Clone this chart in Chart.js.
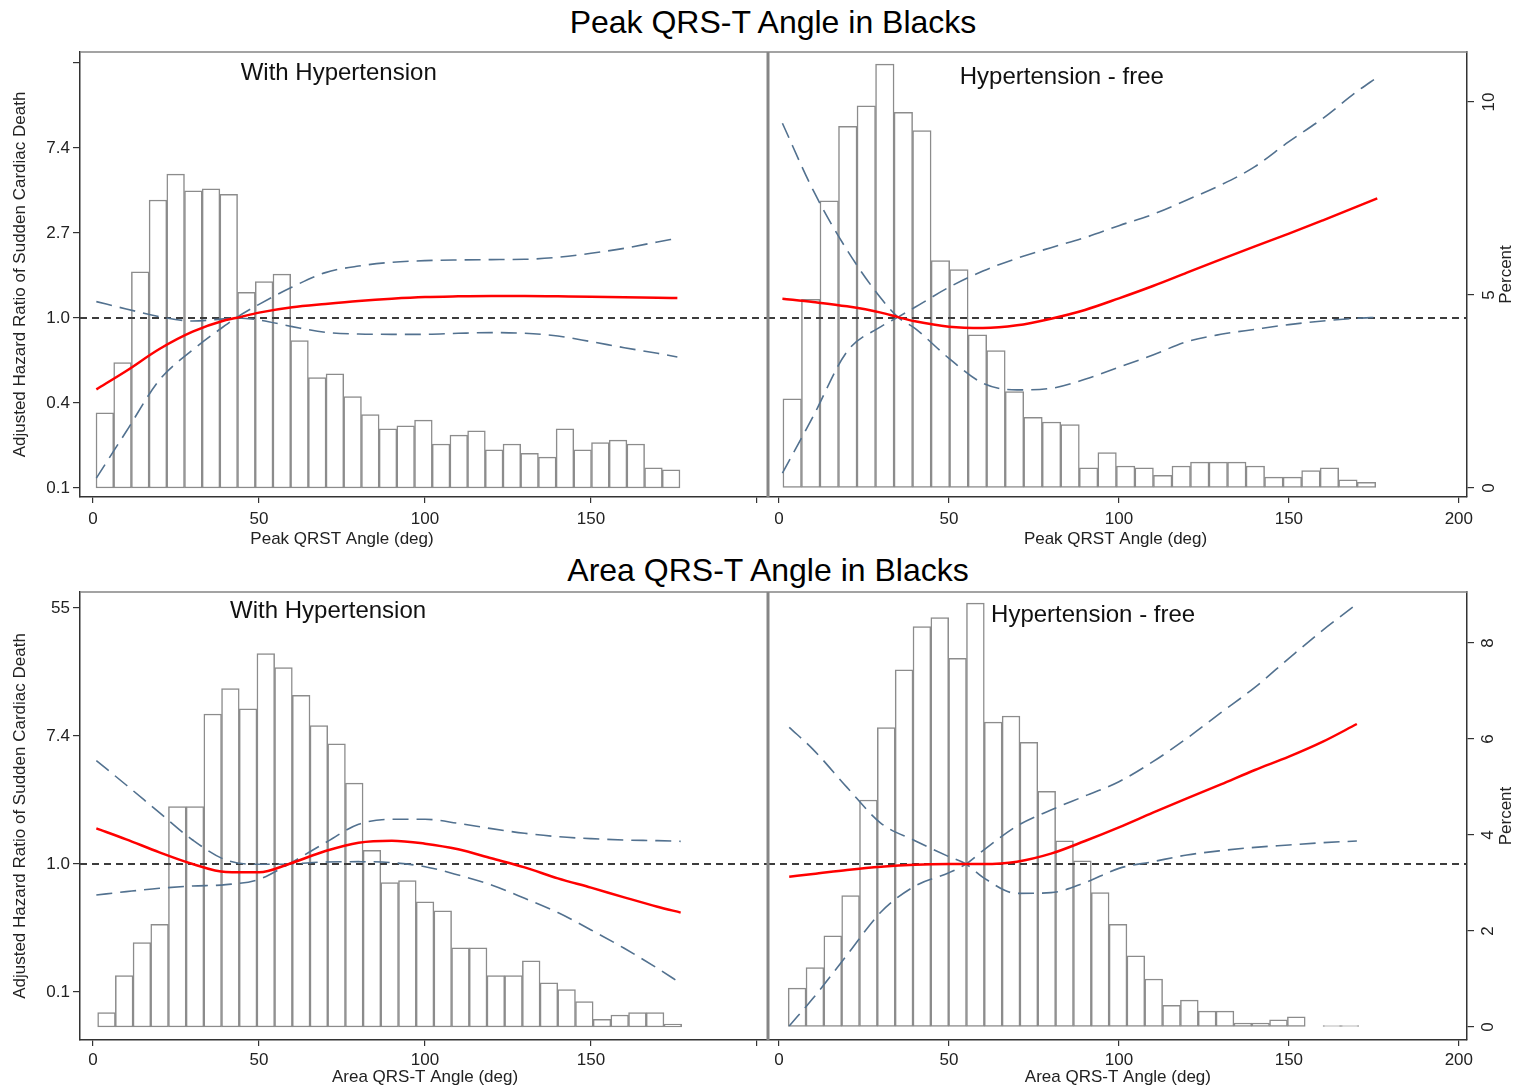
<!DOCTYPE html>
<html>
<head>
<meta charset="utf-8">
<title>QRS-T angle and sudden cardiac death</title>
<script src="https://cdn.jsdelivr.net/npm/chart.js@4.4.1/dist/chart.umd.min.js"></script>
<style>
  html, body { margin: 0; background: #fff; }
  #page { position: relative; width: 1522px; height: 1092px; background: #fff;
          font-family: 'Liberation Sans', Arial, sans-serif; overflow: hidden; }
  #page canvas { position: absolute; }
  .main-title { position: absolute; font-size: 32px; color: #000; white-space: nowrap;
                transform: translate(-50%, -50%); }
</style>
</head>
<body>
<div id="page">
  <div class="main-title" style="left:773px; top:22px">Peak QRS-T Angle in Blacks</div>
  <div class="main-title" style="left:768px; top:570px">Area QRS-T Angle in Blacks</div>
  <canvas id="peakHtn" width="768" height="515" style="left:0; top:40px"></canvas>
  <canvas id="peakFree" width="754" height="515" style="left:768px; top:40px"></canvas>
  <canvas id="areaHtn" width="768" height="512" style="left:0; top:580px"></canvas>
  <canvas id="areaFree" width="754" height="512" style="left:768px; top:580px"></canvas>
</div>
<script>
// ---- histograms: percent of participants per bin (bin start / width in degrees)
const peakHtnBinStart = 0.9, peakHtnBinWidth = 5.33;
const peakHtnPct = [1.95, 3.25, 5.6, 7.46, 8.13, 7.70, 7.75, 7.61, 5.07, 5.35, 5.54, 3.82, 2.86, 2.96, 2.37, 1.90, 1.53,
  1.61, 1.76, 1.14, 1.37, 1.48, 0.99, 1.14, 0.90, 0.80, 1.53, 0.99, 1.18, 1.24, 1.14, 0.52, 0.47];

const peakFreeBinStart = 1.15, peakFreeBinWidth = 5.45;
const peakFreePct = [2.31, 4.89, 7.44, 9.37, 9.90, 10.98, 9.73, 9.26, 5.89, 5.66, 3.97, 3.56, 2.50, 1.83, 1.71, 1.64,
  0.52, 0.92, 0.57, 0.52, 0.33, 0.57, 0.67, 0.67, 0.67, 0.57, 0.28, 0.28, 0.45, 0.52, 0.21, 0.15];

const areaHtnBinStart = 1.4, areaHtnBinWidth = 5.33;
const areaHtnPct = [0.30, 1.07, 1.76, 2.14, 4.59, 4.59, 6.52, 7.05, 6.63, 7.78, 7.49, 6.91, 6.28, 5.90, 5.08, 3.68, 3.01,
  3.05, 2.61, 2.42, 1.65, 1.65, 1.07, 1.07, 1.38, 0.92, 0.78, 0.53, 0.16, 0.25, 0.30, 0.30, 0.06];

const areaFreeBinStart = 2.7, areaFreeBinWidth = 5.245;
const areaFreePct = [0.81, 1.24, 1.90, 2.74, 4.73, 6.24, 7.44, 8.34, 8.53, 7.68, 8.83, 6.35, 6.48, 5.93, 4.91, 3.88,
  3.46, 2.80, 2.14, 1.48, 1.00, 0.45, 0.56, 0.33, 0.33, 0.08, 0.08, 0.15, 0.21, null, 0.03, 0.03];

// ---- spline fits: adjusted hazard ratio and the two 95% CI curves (they cross at the reference angle)
const peakHtnAngle = [1, 10, 20, 30, 40, 43, 50, 60, 70, 80, 90, 100, 110, 120, 130, 140, 150, 160, 170, 176];
const peakHtnHr  = [0.432, 0.536, 0.694, 0.851, 0.977, 1.0, 1.065, 1.134, 1.179, 1.221, 1.255, 1.280, 1.290, 1.295, 1.295, 1.290, 1.285, 1.275, 1.270, 1.265];
const peakHtnCiA = [1.212, 1.112, 1.016, 0.965, 0.992, 1.0, 0.977, 0.903, 0.845, 0.828, 0.825, 0.825, 0.835, 0.842, 0.835, 0.809, 0.757, 0.705, 0.660, 0.632];
const peakHtnCiB = [0.152, 0.263, 0.482, 0.686, 0.921, 1.0, 1.174, 1.440, 1.705, 1.843, 1.925, 1.963, 1.979, 1.987, 1.994, 2.042, 2.140, 2.270, 2.445, 2.553];

const peakFreeAngle = [1, 10, 20, 30, 35, 40, 50, 60, 70, 80, 90, 100, 110, 120, 130, 140, 150, 160, 170, 176];
const peakFreeHr  = [1.255, 1.207, 1.147, 1.065, 1.01, 0.962, 0.903, 0.889, 0.917, 0.992, 1.099, 1.260, 1.457, 1.705, 1.994, 2.324, 2.697, 3.155, 3.705, 4.087];
const peakFreeCiA = [9.88, 4.508, 2.226, 1.260, 1.01, 0.885, 0.622, 0.464, 0.429, 0.437, 0.486, 0.560, 0.647, 0.757, 0.825, 0.875, 0.925, 0.965, 0.996, 1.008];
const peakFreeCiB = [0.161, 0.313, 0.673, 0.903, 1.01, 1.134, 1.435, 1.738, 2.018, 2.287, 2.573, 2.963, 3.386, 4.008, 4.781, 5.932, 7.961, 10.47, 14.34, 16.97];

const areaHtnAngle = [1, 10, 20, 30, 40, 50, 59, 70, 80, 90, 100, 110, 120, 130, 140, 150, 160, 170, 177];
const areaHtnHr  = [1.746, 1.470, 1.200, 1.0, 0.882, 0.878, 1.0, 1.225, 1.396, 1.440, 1.374, 1.258, 1.093, 0.949, 0.799, 0.691, 0.594, 0.513, 0.468];
const areaHtnCiA = [5.03, 3.436, 2.230, 1.455, 1.065, 0.995, 1.0, 1.032, 1.037, 1.021, 0.959, 0.842, 0.720, 0.585, 0.468, 0.357, 0.268, 0.196, 0.155];
const areaHtnCiB = [0.616, 0.649, 0.684, 0.709, 0.724, 0.787, 1.0, 1.396, 1.859, 2.010, 2.010, 1.888, 1.737, 1.615, 1.533, 1.486, 1.455, 1.440, 1.425];

const areaFreeAngle = [3, 10, 20, 30, 40, 50, 55, 60, 70, 80, 90, 100, 110, 120, 130, 140, 150, 160, 170];
const areaFreeHr  = [0.820, 0.855, 0.911, 0.959, 0.990, 1.0, 1.0, 1.0, 1.037, 1.175, 1.432, 1.773, 2.230, 2.790, 3.472, 4.344, 5.350, 6.763, 8.914];
const areaFreeCiA = [8.46, 6.00, 3.313, 1.888, 1.440, 1.121, 1.0, 0.812, 0.632, 0.639, 0.747, 0.934, 1.037, 1.151, 1.232, 1.297, 1.346, 1.396, 1.432];
const areaFreeCiB = [0.0796, 0.1226, 0.241, 0.472, 0.709, 0.873, 1.0, 1.232, 1.811, 2.325, 2.894, 3.620, 4.948, 7.125, 10.64, 15.80, 24.87, 38.70, 58.1];

const refHazard = 1;

// ---- axes
const angleTicks = [0, 50, 100, 150, 200];
const peakLogTicks = [-2, -1, 0, 1, 2, 3];        // ticks at e^k
const peakHrLabels = ['0.1', '0.4', '1.0', '2.7', '7.4', ''];
const areaLogTicks = [-2, 0, 2, 4];
const areaHrLabels = ['0.1', '1.0', '7.4', '55'];
const peakPctTicks = [0, 5, 10];
const areaPctTicks = [0, 2, 4, 6, 8];

Chart.defaults.font.family = "'Liberation Sans', Arial, sans-serif";
Chart.defaults.color = '#222';

const ciColor = '#52718f';
const axisColor = '#333';

function histogram(start, width, pct) {
  return pct.map((p, i) => ({ x: start + width * (i + 0.5), y: p }));
}
function curve(angle, values) {
  return angle.map((a, i) => ({ x: a, y: values[i] }));
}

// frame edges, panel label, x caption and the rotated "Percent" title
const panelDecor = {
  id: 'panelDecor',
  afterDraw(chart, args, o) {
    const { ctx, chartArea: a, scales } = chart;
    ctx.save();
    ctx.strokeStyle = '#858585';
    ctx.lineWidth = 1.5;
    ctx.beginPath(); ctx.moveTo(a.left, a.top); ctx.lineTo(a.right, a.top); ctx.stroke();
    ctx.lineWidth = 3;
    const sx = o.side === 'left' ? a.right : a.left;
    ctx.beginPath(); ctx.moveTo(sx, a.top); ctx.lineTo(sx, a.bottom); ctx.stroke();

    ctx.fillStyle = '#111';
    ctx.textAlign = 'center';
    ctx.textBaseline = 'middle';
    ctx.font = "24px 'Liberation Sans', Arial, sans-serif";
    ctx.fillText(o.label, scales.x.getPixelForValue(o.labelAt[0]), scales.yPct.getPixelForValue(o.labelAt[1]));

    ctx.fillStyle = '#222';
    ctx.font = "17px 'Liberation Sans', Arial, sans-serif";
    ctx.fillText(o.xTitle, scales.x.getPixelForValue(o.xTitleAt), a.bottom + o.xTitleGap);

    if (o.side === 'right') {
      ctx.translate(a.right + 39, (a.top + a.bottom) / 2);
      ctx.rotate(-Math.PI / 2);
      ctx.fillText('Percent', 0, 0);
    }
    ctx.restore();
  }
};

function drawPanel(id, p) {
  const left = p.side === 'left';
  const tickGrid = { drawOnChartArea: false, drawTicks: true, color: axisColor, lineWidth: 1.2 };
  const border = { display: true, color: axisColor, width: 1.5 };
  new Chart(document.getElementById(id), {
    type: 'bar',
    data: {
      datasets: [
        { type: 'line', data: curve(p.angle, p.hr), yAxisID: 'yHr', borderColor: '#ff0000', borderWidth: 2.5,
          pointRadius: 0, cubicInterpolationMode: 'monotone', order: 1 },
        { type: 'line', data: curve(p.angle, p.ciA), yAxisID: 'yHr', borderColor: ciColor, borderWidth: 1.6,
          borderDash: [16, 8], pointRadius: 0, cubicInterpolationMode: 'monotone', order: 2 },
        { type: 'line', data: curve(p.angle, p.ciB), yAxisID: 'yHr', borderColor: ciColor, borderWidth: 1.6,
          borderDash: [16, 8], pointRadius: 0, cubicInterpolationMode: 'monotone', order: 2 },
        { type: 'line', data: [{ x: p.xRange[0], y: refHazard }, { x: p.xRange[1], y: refHazard }], yAxisID: 'yHr',
          borderColor: '#3c3c3c', borderWidth: 2, borderDash: [7, 5], pointRadius: 0, order: 3 },
        { type: 'bar', data: histogram(p.binStart, p.binWidth, p.pct), yAxisID: 'yPct',
          backgroundColor: '#ffffff', borderColor: '#8c8c8c', borderWidth: 1.5, borderSkipped: false,
          barPercentage: 1, categoryPercentage: 1, grouped: false, order: 4 }
      ]
    },
    options: {
      responsive: false,
      animation: false,
      events: [],
      layout: { padding: { top: 12, left: 0, right: 0, bottom: 0 } },
      plugins: {
        legend: { display: false },
        tooltip: { enabled: false },
        panelDecor: { side: p.side, label: p.label, labelAt: p.labelAt, xTitle: p.xTitle,
                      xTitleAt: p.xTitleAt, xTitleGap: p.xTitleGap }
      },
      scales: {
        x: {
          type: 'linear', min: p.xRange[0], max: p.xRange[1], offset: false, bounds: 'data',
          afterBuildTicks: ax => { ax.ticks = angleTicks.map(v => ({ value: v })); },
          afterFit: ax => { ax.height = p.xAxisHeight; ax.paddingLeft = 0; ax.paddingRight = 0; },
          ticks: { callback: v => (left && v === 200 ? '' : String(v)), font: { size: 17 }, color: '#222',
                   padding: p.xTickPad, maxRotation: 0, autoSkip: false },
          grid: Object.assign({ tickLength: 6, offset: false }, tickGrid),
          border: border
        },
        yHr: {
          type: 'logarithmic', position: 'left', display: left, bounds: 'data',
          min: Math.exp(p.logRange[0]), max: Math.exp(p.logRange[1]),
          afterBuildTicks: ax => { ax.ticks = p.logTicks.map(k => ({ value: Math.exp(k) })); },
          afterFit: ax => { ax.width = left ? 80 : 0; ax.paddingTop = 0; ax.paddingBottom = 0; },
          ticks: { callback: (v, i) => p.hrLabels[i], font: { size: 17 }, color: '#222', padding: 3, autoSkip: false },
          grid: Object.assign({ tickLength: 7 }, tickGrid),
          border: border,
          title: { display: true, text: 'Adjusted Hazard Ratio of Sudden Cardiac Death',
                   font: { size: 17 }, color: '#222', padding: { top: 10, bottom: 0 } }
        },
        yPct: {
          type: 'linear', position: 'right', display: !left, bounds: 'data',
          min: p.pctRange[0], max: p.pctRange[1],
          afterBuildTicks: ax => { ax.ticks = p.pctTicks.map(v => ({ value: v })); },
          afterFit: ax => { ax.width = left ? 0 : 55; ax.paddingTop = 0; ax.paddingBottom = 0; },
          ticks: { font: { size: 17 }, color: '#222', padding: p.pctPad, minRotation: 90, maxRotation: 90,
                   crossAlign: 'center', autoSkip: false },
          grid: Object.assign({ tickLength: 7 }, tickGrid),
          border: border
        }
      }
    },
    plugins: [panelDecor]
  });
}

const peakRow = { logRange: [-2.106, 3.129], pctRange: [-0.233, 11.295], logTicks: peakLogTicks,
  hrLabels: peakHrLabels, pctTicks: peakPctTicks, pctPad: 5.5, xAxisHeight: 58, xTickPad: 6, xTitleGap: 42,
  xTitle: 'Peak QRST Angle (deg)' };
const areaRow = { logRange: [-2.75, 4.25], pctRange: [-0.271, 9.0625], logTicks: areaLogTicks,
  hrLabels: areaHrLabels, pctTicks: areaPctTicks, pctPad: 9.3, xAxisHeight: 52, xTickPad: 4, xTitleGap: 37,
  xTitle: 'Area QRS-T Angle (deg)' };

drawPanel('peakHtn', Object.assign({}, peakRow, {
  side: 'left', xRange: [-3.92, 203.3], label: 'With Hypertension', labelAt: [74, 10.73], xTitleAt: 75,
  binStart: peakHtnBinStart, binWidth: peakHtnBinWidth, pct: peakHtnPct,
  angle: peakHtnAngle, hr: peakHtnHr, ciA: peakHtnCiA, ciB: peakHtnCiB }));

drawPanel('peakFree', Object.assign({}, peakRow, {
  side: 'right', xRange: [-3.24, 202.4], label: 'Hypertension - free', labelAt: [83.2, 10.65], xTitleAt: 99,
  binStart: peakFreeBinStart, binWidth: peakFreeBinWidth, pct: peakFreePct,
  angle: peakFreeAngle, hr: peakFreeHr, ciA: peakFreeCiA, ciB: peakFreeCiB }));

drawPanel('areaHtn', Object.assign({}, areaRow, {
  side: 'left', xRange: [-3.92, 203.3], label: 'With Hypertension', labelAt: [70.8, 8.65], xTitleAt: 100,
  binStart: areaHtnBinStart, binWidth: areaHtnBinWidth, pct: areaHtnPct,
  angle: areaHtnAngle, hr: areaHtnHr, ciA: areaHtnCiA, ciB: areaHtnCiB }));

drawPanel('areaFree', Object.assign({}, areaRow, {
  side: 'right', xRange: [-3.24, 202.4], label: 'Hypertension - free', labelAt: [92.4, 8.58], xTitleAt: 99.7,
  binStart: areaFreeBinStart, binWidth: areaFreeBinWidth, pct: areaFreePct,
  angle: areaFreeAngle, hr: areaFreeHr, ciA: areaFreeCiA, ciB: areaFreeCiB }));
</script>
</body>
</html>
